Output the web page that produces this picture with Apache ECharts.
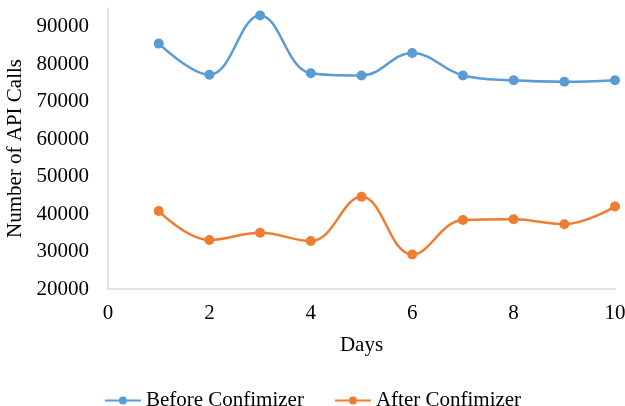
<!DOCTYPE html>
<html>
<head>
<meta charset="utf-8">
<script src="https://cdn.jsdelivr.net/npm/echarts@6/dist/echarts.min.js"></script>
<style>html,body{margin:0;padding:0;background:#fff}#c{width:625px;height:406px}</style>
</head>
<body>
<div id="c"></div>
<script>
var days = [1, 2, 3, 4, 5, 6, 7, 8, 9, 10];
var beforeConfimizer = [85500, 77200, 93000, 77600, 77000, 83000, 77000, 75700, 75300, 75700];
var afterConfimizer = [40800, 33100, 35000, 32800, 44600, 29200, 38400, 38600, 37300, 42000];
var seriesNames = ['Before Confimizer', 'After Confimizer'];

function pairs(xs, ys) { return xs.map(function (x, i) { return [x, ys[i]]; }); }

var font = 'Liberation Serif';
var fs = 21;
var chart = echarts.init(document.getElementById('c'), null, { renderer: 'canvas' });
chart.setOption({
  animation: false,
  backgroundColor: '#fff',
  grid: { left: 108, right: 10, top: 8, bottom: 117, containLabel: false, outerBoundsMode: 'none' },
  xAxis: {
    type: 'value', min: 0, max: 10, interval: 2,
    name: 'Days', nameLocation: 'middle', nameGap: 46,
    nameTextStyle: { fontFamily: font, fontSize: 21, color: '#000' },
    axisLine: { show: true, lineStyle: { color: '#d9d9d9', width: 1.5 } },
    axisTick: { show: false },
    splitLine: { show: false },
    axisLabel: { fontFamily: font, fontSize: fs, color: '#000', margin: 14 }
  },
  yAxis: {
    type: 'value', min: 20000, max: 95000, interval: 10000,
    name: 'Number of API Calls', nameLocation: 'middle', nameGap: 77, nameRotate: 90,
    nameTextStyle: { fontFamily: font, fontSize: 21, color: '#000' },
    axisLine: { show: true, lineStyle: { color: '#d9d9d9', width: 1.5 } },
    axisTick: { show: false },
    splitLine: { show: false },
    axisLabel: { fontFamily: font, fontSize: fs, color: '#000', margin: 19, showMaxLabel: false,
      formatter: function (v) { return String(v); } }
  },
  legend: {
    top: 385, left: 'center', itemWidth: 36, itemHeight: 10, itemGap: 30,
    textStyle: { fontFamily: font, fontSize: fs, color: '#000' },
    data: seriesNames
  },
  series: [
    {
      name: seriesNames[0], type: 'line', smooth: 0.4,
      data: pairs(days, beforeConfimizer),
      symbol: 'circle', symbolSize: 10,
      itemStyle: { color: '#5B9BD5' },
      lineStyle: { color: '#5B9BD5', width: 2.5 }
    },
    {
      name: seriesNames[1], type: 'line', smooth: 0.4,
      data: pairs(days, afterConfimizer),
      symbol: 'circle', symbolSize: 10,
      itemStyle: { color: '#ED7D31' },
      lineStyle: { color: '#ED7D31', width: 2.5 }
    }
  ]
});
</script>
</body>
</html>
